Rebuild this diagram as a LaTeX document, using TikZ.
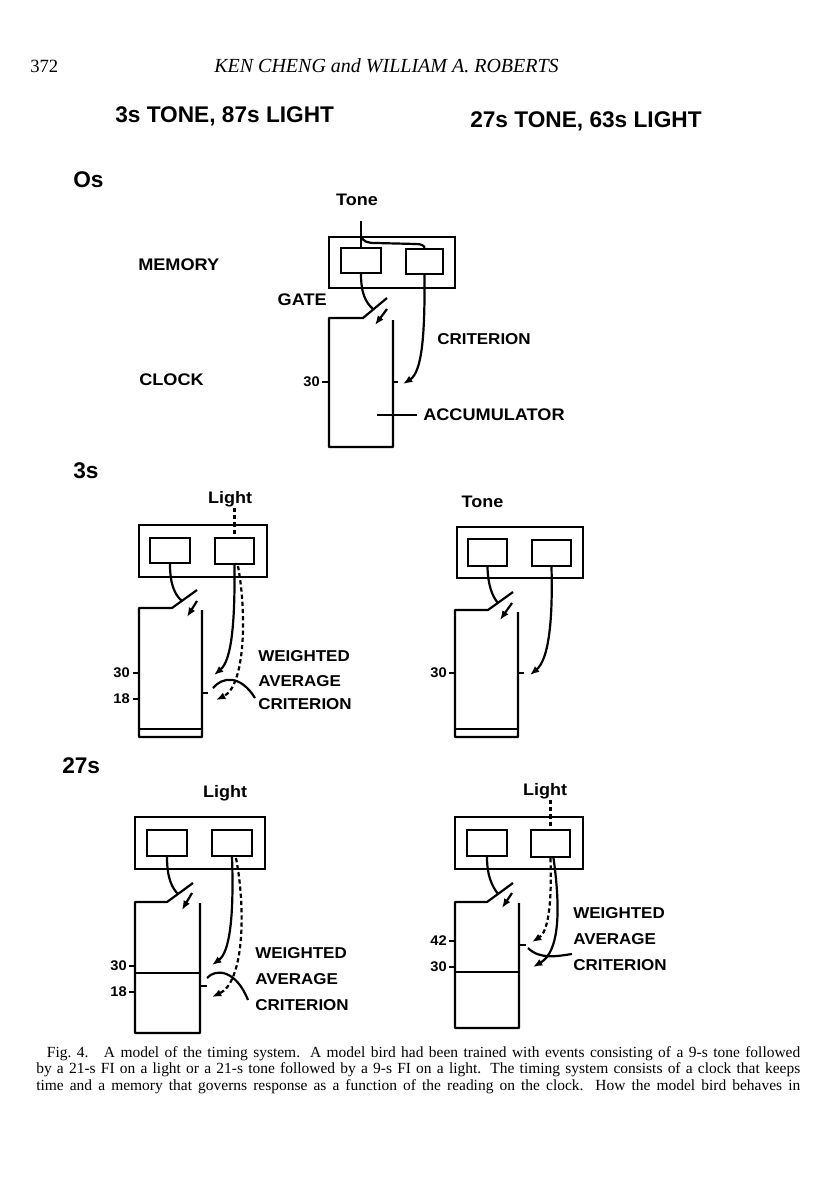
\documentclass[tikz,border=0pt]{standalone}
\usepackage{fontspec}
\setmainfont{Liberation Serif}
\newfontfamily\labf[FakeStretch=1.08]{Liberation Sans}
\newfontfamily\numf[FakeStretch=1.05]{Liberation Sans}
\newfontfamily\hdf{Liberation Sans}
\usetikzlibrary{arrows.meta,fit}
\begin{document}
\begin{tikzpicture}[x=0.75pt,y=-0.75pt,
  ln/.style={line width=1.65pt,line join=round},
  arr/.style={ln,-{Latex[length=7pt,width=5.5pt]}},
  dsh/.style={ln,dash pattern=on 3.2pt off 2.2pt},
  darr/.style={dsh,-{Latex[length=7pt,width=5.5pt]}},
  mbox/.style={draw,line width=1.65pt,inner sep=0pt},
  lab/.style={font=\labf\bfseries\fontsize{11.8}{14}\selectfont,inner sep=0pt},
  labl/.style={font=\labf\bfseries\fontsize{12.6}{15}\selectfont,inner sep=0pt},
  src/.style={font=\labf\bfseries\fontsize{12.5}{15}\selectfont,inner sep=0pt,anchor=base},
  num/.style={font=\numf\bfseries\fontsize{10.5}{12}\selectfont,inner sep=0pt,anchor=east},
  ttl/.style={font=\hdf\bfseries\fontsize{17}{20}\selectfont,inner sep=0pt,anchor=base west},
  hdr/.style={font=\fontsize{14}{16}\selectfont,inner sep=0pt,anchor=base}
]
\useasboundingbox (0,0) rectangle (816,1200);
\fill[white] (0,0) rectangle (816,1200);

% running head
\node[hdr,anchor=base west] (page) at (30,72) {372};
\node[hdr,font=\fontsize{15}{17}\selectfont] (authors) at (386.5,72) {\itshape KEN CHENG and WILLIAM A. ROBERTS};

% titles
\node[ttl] (title1) at (115,122) {3s TONE, 87s LIGHT};
\node[ttl] (title2) at (470,127) {27s TONE, 63s LIGHT};

% ================= 0s =================
\node[ttl] (sec0) at (73,187) {Os};
\node[labl,anchor=west] (memory) at (138,265) {MEMORY};
\node[labl,anchor=west] (clock) at (139,380) {CLOCK};
\node[src] (tone0) at (357,205) {Tone};
\node[mbox,fit={(329,237)(455,288)}] (m0) {};
\node[mbox,fit={(341,248)(381,273)}] (a0) {};
\node[mbox,fit={(406,249)(443,274)}] (b0) {};
\coordinate (t0) at (361,221);
\draw[ln] (t0) -- (a0.north);
\coordinate (t0b) at (361,236);
\draw[ln] (t0b) .. controls (363,242) and (368,243) .. (376,243) -- (416,244) .. controls (422,244) and (424.5,246) .. (b0.north);
\coordinate (g0) at (373,309);
\draw[ln] (a0.south) .. controls (361,292) and (365,302) .. (g0);
\draw[ln] (387,298) -- (363,318) -- (329,318) -- (329,447) -- (393,447) -- (393,320);
\draw[arr] (387,309) -- (375,325);
\node[labl,anchor=east] (gate0) at (327,300) {GATE};
\node[lab,anchor=west] (crit0) at (437,339) {CRITERION};
\coordinate (c0) at (403,384);
\draw[arr] (b0.south) .. controls (425,335) and (422,372) .. (c0);
\draw[ln] (322,382) -- (329,382);
\node[num] (n0) at (320,382) {30};
\draw[ln] (393,382) -- (398,382);
\coordinate (acc0) at (377,415);
\node[labl,anchor=west] (acc) at (423,415) {ACCUMULATOR};
\draw[ln] (acc0) -- ++(40,0);

% ================= 3s =================
\node[ttl] (sec1) at (73,478) {3s};
% --- left
\node[src] (light1) at (230,503) {Light};
\node[mbox,fit={(139,525)(267,577)}] (m1) {};
\node[mbox,fit={(150,538)(190,563)}] (a1) {};
\node[mbox,fit={(215,538)(254,564)}] (b1) {};
\coordinate (l1) at (234.5,508);
\draw[dsh] (l1) -- (b1.north);
\coordinate (g1) at (182,601);
\draw[ln] (a1.south) .. controls (170,585) and (175,595) .. (g1);
\draw[ln] (197,590) -- (172,608) -- (139,608) -- (139,737) -- (202,737) -- (202,610);
\draw[ln] (139,729) -- (202,729);
\draw[arr] (197,601) -- (187,617);
\draw[ln] (133,673) -- (139,673);
\node[num] (n1a) at (130,673) {30};
\draw[ln] (133,699) -- (139,699);
\node[num] (n1b) at (130,699) {18};
\draw[ln] (202,693) -- (208,693);
\coordinate (s1) at (214,675);
\draw[arr] (b1.south) .. controls (235,620) and (232,660) .. (s1);
\coordinate (d1a) at (238,566);
\coordinate (d1) at (216,700);
\draw[darr] (d1a) .. controls (247,615) and (245,686) .. (d1);
\coordinate (h1a) at (213,688);
\coordinate (h1b) at (255,698);
\draw[ln] (h1a) .. controls (222,677) and (240,674) .. (h1b);
\node[lab,anchor=west] (w1) at (258,656) {WEIGHTED};
\node[lab,anchor=west] (v1) at (258,681) {AVERAGE};
\node[lab,anchor=west] (r1) at (258,704) {CRITERION};
% --- right
\node[src] (tone2) at (482.5,507) {Tone};
\node[mbox,fit={(457,527)(583,578)}] (m2) {};
\node[mbox,fit={(468,539)(507,566)}] (a2) {};
\node[mbox,fit={(532,540)(571,566)}] (b2) {};
\coordinate (g2) at (498,603);
\draw[ln] (a2.south) .. controls (488,585) and (492,596) .. (g2);
\draw[ln] (513,592) -- (488,610) -- (455,610) -- (455,737) -- (518,737) -- (518,612);
\draw[ln] (455,729) -- (518,729);
\draw[arr] (512,603) -- (500,620);
\draw[ln] (449,673) -- (455,673);
\node[num] (n2) at (447,673) {30};
\draw[ln] (518,673) -- (524,673);
\coordinate (s2) at (530,675);
\draw[arr] (b2.south) .. controls (553,625) and (548,660) .. (s2);

% ================= 27s =================
\node[ttl] (sec2) at (62,773) {27s};
% --- left
\node[src] (light3) at (225,797) {Light};
\node[mbox,fit={(135,817)(265,869)}] (m3) {};
\node[mbox,fit={(147,830)(187,856)}] (a3) {};
\node[mbox,fit={(212,830)(252,856)}] (b3) {};
\coordinate (g3) at (178,894);
\draw[ln] (a3.south) .. controls (167,878) and (172,888) .. (g3);
\draw[ln] (193,883) -- (167,902) -- (135,902) -- (135,1033) -- (200,1033) -- (200,903);
\draw[ln] (135,973) -- (200,973);
\draw[arr] (192,893) -- (182,910);
\draw[ln] (129,966) -- (135,966);
\node[num] (n3a) at (127,966) {30};
\draw[ln] (129,992) -- (135,992);
\node[num] (n3b) at (127,992) {18};
\draw[ln] (200,986) -- (207,986);
\coordinate (s3) at (212,965);
\draw[arr] (b3.south) .. controls (234,915) and (230,952) .. (s3);
\coordinate (d3a) at (236,858);
\coordinate (d3) at (212,997);
\draw[darr] (d3a) .. controls (246,910) and (244,982) .. (d3);
\coordinate (h3a) at (207,978);
\coordinate (h3b) at (248,1000);
\draw[ln] (h3a) .. controls (216,968) and (236,970) .. (h3b);
\node[lab,anchor=west] (w3) at (255,953) {WEIGHTED};
\node[lab,anchor=west] (v3) at (255,979) {AVERAGE};
\node[lab,anchor=west] (r3) at (255,1005) {CRITERION};
% --- right
\node[src] (light4) at (545,795) {Light};
\node[mbox,fit={(455,817)(583,869)}] (m4) {};
\node[mbox,fit={(467,830)(507,856)}] (a4) {};
\node[mbox,fit={(531,830)(570,857)}] (b4) {};
\coordinate (l4) at (550.5,800);
\draw[dsh] (l4) -- (b4.north);
\coordinate (g4) at (498,894);
\draw[ln] (a4.south) .. controls (487,876) and (492,886) .. (g4);
\draw[ln] (513,883) -- (487,902) -- (455,902) -- (455,1028) -- (519,1028) -- (519,903);
\draw[ln] (455,972) -- (519,972);
\draw[arr] (512,893) -- (502,908);
\draw[ln] (449,941) -- (455,941);
\node[num] (n4a) at (447,941) {42};
\draw[ln] (449,967) -- (455,967);
\node[num] (n4b) at (447,967) {30};
\draw[ln] (519,945) -- (526,945);
\coordinate (d4) at (532,942);
\draw[darr] (b4.south) .. controls (552,905) and (548,932) .. (d4);
\coordinate (s4a) at (553.5,858);
\coordinate (s4) at (533,967);
\draw[arr] (s4a) .. controls (561,912) and (559,952) .. (s4);
\coordinate (h4a) at (528,948);
\coordinate (h4b) at (572,954);
\draw[ln] (h4a) .. controls (540,960) and (558,956) .. (h4b);
\node[lab,anchor=west] (w4) at (573,913) {WEIGHTED};
\node[lab,anchor=west] (v4) at (573,939) {AVERAGE};
\node[lab,anchor=west] (r4) at (573,965) {CRITERION};

% caption
\node[anchor=north west,inner sep=0pt,text width=573pt,align=justify,font=\fontsize{11.6}{12.5}\selectfont] (caption) at (36,1046)
{\parindent=0pt\parfillskip=0pt\rightskip=0pt\relax\hspace*{8pt}Fig.~4.\quad A model of the timing system. A model bird had been trained with events consisting of a 9-s tone followed\linebreak by a 21-s FI on a light or a 21-s tone followed by a 9-s FI on a light. The timing system consists of a clock that keeps\linebreak time and a memory that governs response as a function of the reading on the clock. How the model bird behaves in\par};
\end{tikzpicture}
\end{document}
